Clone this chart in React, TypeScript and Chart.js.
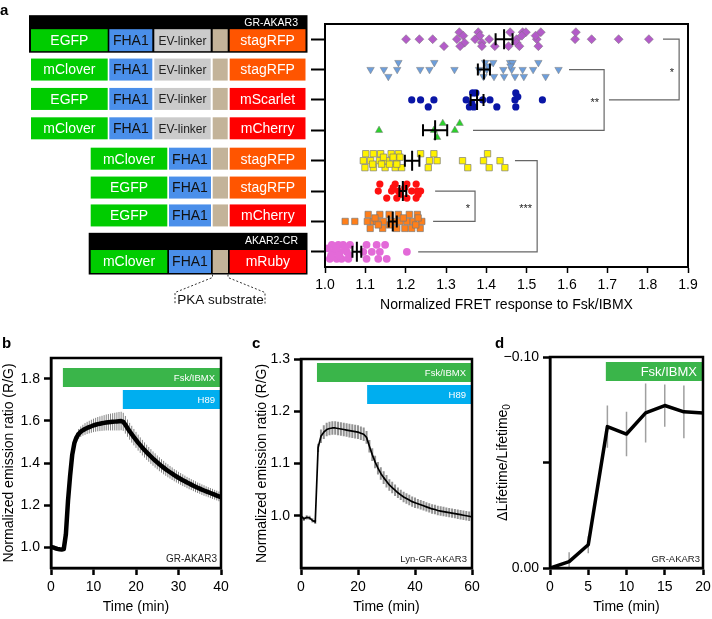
import React, { useEffect, useRef } from 'react';
import { Chart, registerables } from 'chart.js';

Chart.register(...registerables);

const FONT = '"Liberation Sans", Arial, Helvetica, sans-serif';
Chart.defaults.font.family = FONT;
Chart.defaults.font.size = 14;
Chart.defaults.color = '#000';

// ================= Panel a data =================
const constructDonors = ['EGFP', 'mClover', 'EGFP', 'mClover', 'mClover', 'EGFP', 'EGFP', 'mClover'];
const constructAcceptors = ['stagRFP', 'stagRFP', 'mScarlet', 'mCherry', 'stagRFP', 'stagRFP', 'mCherry', 'mRuby'];
const constructHasLinker = [true, true, true, true, false, false, false, false];
const constructHeaders = ['GR-AKAR3', '', '', '', '', '', '', 'AKAR2-CR'];
const rowIndex = [0, 1, 2, 3, 4, 5, 6, 7];
const aTicks = [1.0, 1.1, 1.2, 1.3, 1.4, 1.5, 1.6, 1.7, 1.8, 1.9];

const purpleX = [1.201, 1.234, 1.267, 1.327, 1.372, 1.407, 1.475, 1.525, 1.620, 1.661, 1.728, 1.803,
  1.333, 1.380, 1.459, 1.490, 1.498, 1.535, 1.622,
  1.343, 1.384, 1.488, 1.522,
  1.346, 1.389, 1.475,
  1.295, 1.335, 1.389, 1.421, 1.455, 1.482, 1.529];
const purpleJ = [0, 0, 0, 0, 0, 0, 0, 0, 0, 0, 0, 0,
  -1, -1, -1, -1, -1, -1, -1,
  -0.5, -0.5, -0.5, -0.5,
  0.5, 0.5, 0.5,
  1, 1, 1, 1, 1, 1, 1];

const blueX = [1.113, 1.146, 1.179, 1.236, 1.259, 1.321, 1.382, 1.401, 1.442, 1.463, 1.490, 1.516, 1.579,
  1.182, 1.271, 1.397, 1.417, 1.459, 1.465, 1.529,
  1.157, 1.393, 1.419, 1.444, 1.471, 1.493, 1.547,
  1.405, 1.460];
const blueJ = [0, 0, 0, 0, 0, 0, 0, 0, 0, 0, 0, 0, 0,
  -1, -1, -1, -1, -1, -1, -1,
  1, 1, 1, 1, 1, 1, 1,
  -0.5, -0.5];

const navyX = [1.215, 1.237, 1.270, 1.350, 1.391, 1.409, 1.471, 1.539,
  1.366, 1.374, 1.473,
  1.256, 1.358, 1.369, 1.426, 1.473,
  1.478, 1.364];
const navyJ = [0, 0, 0, 0, 0, 0, 0, 0,
  -1, -1, -1,
  1, 1, 1, 1, 1,
  -0.45, 0.5];

const greenX = [1.134, 1.270, 1.322, 1.292, 1.334, 1.278];
const greenJ = [0, 0, 0, -1, -1, 1];

const yellowX = [1.101, 1.120, 1.138, 1.164, 1.182, 1.237, 1.270, 1.403,
  1.095, 1.113, 1.135, 1.153, 1.178, 1.259, 1.278, 1.341, 1.393, 1.434,
  1.099, 1.120, 1.149, 1.174, 1.190, 1.256, 1.354, 1.407, 1.446,
  1.145, 1.169, 1.186,
  1.118, 1.140, 1.160, 1.178];
const yellowJ = [-1, -1, -1, -1, -1, -1, -1, -1,
  0, 0, 0, 0, 0, 0, 0, 0, 0, 0,
  1, 1, 1, 1, 1, 1, 1, 1, 1,
  -0.5, -0.5, -0.5,
  0.5, 0.5, 0.5, 0.5];

const redX = [1.136, 1.174, 1.203, 1.226,
  1.132, 1.165, 1.182, 1.215, 1.229, 1.237,
  1.153, 1.178, 1.203, 1.226,
  1.169, 1.198,
  1.186, 1.231];
const redJ = [-1, -1, -1, -1,
  0, 0, 0, 0, 0, 0,
  1, 1, 1, 1,
  -0.5, -0.5,
  0.5, 0.5];

const orangeX = [1.050, 1.074, 1.105, 1.120, 1.128, 1.145, 1.168, 1.186, 1.203, 1.219, 1.240,
  1.107, 1.136, 1.159, 1.182, 1.209, 1.229,
  1.112, 1.143, 1.178, 1.198, 1.215, 1.236,
  1.124, 1.194, 1.231,
  1.132, 1.160, 1.225];
const orangeJ = [0, 0, 0, 0, 0, 0, 0, 0, 0, 0, 0,
  -1, -1, -1, -1, -1, -1,
  1, 1, 1, 1, 1, 1,
  -0.5, -0.5, -0.5,
  0.5, 0.5, 0.5];

const pinkX = [1.017, 1.033, 1.045, 1.062, 1.103, 1.128, 1.149,
  1.021, 1.037, 1.054, 1.095, 1.116, 1.136, 1.203,
  1.012, 1.029, 1.041, 1.058, 1.103, 1.132, 1.153,
  1.007, 1.027, 1.050,
  1.015, 1.035, 1.060];
const pinkJ = [-1, -1, -1, -1, -1, -1, -1,
  0, 0, 0, 0, 0, 0, 0,
  1, 1, 1, 1, 1, 1, 1,
  -0.5, -0.5, -0.5,
  0.5, 0.5, 0.5];

const aMeans = [1.444, 1.394, 1.377, 1.273, 1.216, 1.193, 1.168, 1.079];
const aSems = [0.021, 0.015, 0.016, 0.030, 0.018, 0.0085, 0.010, 0.011];

const bracketFrom = [0, 1, 4, 5];
const bracketTo = [2, 3, 7, 6];
const bracketStartX = [1.838, 1.605, 1.471, 1.273];
const bracketSideX = [1.878, 1.692, 1.526, 1.372];
const bracketEndX = [1.704, 1.367, 1.231, 1.268];
const bracketStars = ['*', '**', '***', '*'];

// ================= Panel b data =================
const bTime = [0, 0.5, 1, 1.5, 2, 2.5, 3, 3.5, 4, 4.5, 5, 5.5, 6, 6.5, 7, 7.5, 8, 8.5, 9, 9.5, 10, 10.5, 11, 11.5, 12, 12.5, 13, 13.5, 14, 14.5, 15, 15.5, 16, 16.5, 17, 17.5, 18, 18.5, 19, 19.5, 20, 20.5, 21, 21.5, 22, 22.5, 23, 23.5, 24, 24.5, 25, 25.5, 26, 26.5, 27, 27.5, 28, 28.5, 29, 29.5, 30, 30.5, 31, 31.5, 32, 32.5, 33, 33.5, 34, 34.5, 35, 35.5, 36, 36.5, 37, 37.5, 38, 38.5, 39, 39.5, 40];
const bMean = [1.000, 0.998, 0.994, 0.991, 0.989, 0.988, 0.990,
  1.060, 1.220, 1.340, 1.440, 1.495, 1.522, 1.538, 1.549, 1.556, 1.562, 1.567, 1.571, 1.575, 1.579, 1.582, 1.585, 1.587, 1.589, 1.591, 1.593, 1.594, 1.595, 1.596, 1.597, 1.598, 1.599, 1.600,
  1.596, 1.582, 1.566, 1.551, 1.537, 1.523, 1.510,
  1.497, 1.485, 1.473, 1.462, 1.451, 1.441, 1.431, 1.421, 1.412, 1.403,
  1.394, 1.386, 1.378, 1.370, 1.363, 1.356, 1.349, 1.342, 1.336, 1.330,
  1.324, 1.318, 1.313, 1.307, 1.302, 1.297, 1.292, 1.287, 1.282, 1.278,
  1.273, 1.269, 1.265, 1.261, 1.257, 1.253, 1.249, 1.245, 1.241, 1.237];
const bSem = [0.004, 0.004, 0.004, 0.004, 0.004, 0.004, 0.004,
  0.008, 0.012, 0.015, 0.018, 0.020, 0.022, 0.024, 0.025, 0.026, 0.028, 0.029, 0.030, 0.031, 0.032, 0.033, 0.034, 0.035, 0.036, 0.037, 0.038, 0.039, 0.040, 0.041, 0.042, 0.043, 0.044, 0.044,
  0.043, 0.042, 0.041, 0.040, 0.040, 0.039, 0.038,
  0.038, 0.037, 0.037, 0.036, 0.036, 0.035, 0.035, 0.034, 0.034, 0.033,
  0.033, 0.032, 0.032, 0.031, 0.031, 0.030, 0.030, 0.029, 0.029, 0.028,
  0.028, 0.028, 0.027, 0.027, 0.027, 0.026, 0.026, 0.026, 0.025, 0.025,
  0.025, 0.025, 0.024, 0.024, 0.024, 0.024, 0.023, 0.023, 0.023, 0.023];
const bXTicks = [0, 10, 20, 30, 40];
const bYTicks = [1.0, 1.2, 1.4, 1.6, 1.8];
const bTreatLabels = ['Fsk/IBMX', 'H89'];
const bTreatStart = [2.8, 16.9];

// ================= Panel c data =================
const cTime = [0, 1, 2, 3, 4, 5, 6, 7, 8, 9, 10, 11, 12, 13, 14, 15, 16, 17, 18, 19, 20, 21, 22, 23, 24, 25, 26, 27, 28, 29, 30, 31, 32, 33, 34, 35, 36, 37, 38, 39, 40, 41, 42, 43, 44, 45, 46, 47, 48, 49, 50, 51, 52, 53, 54, 55, 56, 57, 58, 59, 60];
const cMean = [1.000, 0.994, 0.997, 0.996, 0.991, 0.988, 1.130, 1.152, 1.160, 1.165,
  1.167, 1.168, 1.168, 1.167, 1.166, 1.165, 1.164, 1.163, 1.162, 1.161,
  1.160, 1.158, 1.156, 1.150, 1.133, 1.117, 1.103, 1.091, 1.081, 1.073,
  1.066, 1.059, 1.054, 1.049, 1.044, 1.040, 1.036, 1.033, 1.030, 1.027,
  1.025, 1.023, 1.021, 1.019, 1.017, 1.015, 1.013, 1.012, 1.010, 1.009,
  1.008, 1.007, 1.006, 1.005, 1.004, 1.003, 1.002, 1.001, 1.000, 0.999, 0.998];
const cSem = [0.004, 0.004, 0.004, 0.004, 0.004, 0.004, 0.008,
  0.013, 0.013, 0.013, 0.013, 0.013, 0.013, 0.013, 0.013, 0.013, 0.013, 0.013, 0.013, 0.013, 0.013, 0.013, 0.013,
  0.012, 0.012, 0.012, 0.012, 0.012, 0.012, 0.012, 0.012,
  0.011, 0.011, 0.011, 0.010, 0.010, 0.010, 0.010, 0.010, 0.010, 0.010, 0.009, 0.009, 0.009, 0.009, 0.009,
  0.009, 0.009, 0.009, 0.009, 0.009, 0.009, 0.009, 0.009, 0.009, 0.009, 0.009, 0.009, 0.009, 0.009, 0.009];
const cXTicks = [0, 20, 40, 60];
const cYTicks = [1.0, 1.1, 1.2, 1.3];
const cTreatLabels = ['Fsk/IBMX', 'H89'];
const cTreatStart = [5.6, 23.2];

// ================= Panel d data =================
const dTime = [0, 2.5, 5, 7.5, 10, 12.5, 15, 17.5, 20];
const dMean = [0, -0.003, -0.011, -0.067, -0.0635, -0.0735, -0.077, -0.074, -0.0735];
const dSem = [0, 0.0045, 0.004, 0.010, 0.0105, 0.014, 0.010, 0.0125, 0.013];
const dXTicks = [0, 5, 10, 15, 20];
const dYTicks = [-0.10, -0.05, 0.00];
const dYTickLabels = ['\u22120.10', '', '0.00'];
const dTreatLabels = ['Fsk/IBMX'];
const dTreatStart = [7.3];

// ================= styles =================
const C_GREEN = '#00CC00';
const C_BLUE = '#4A8FEA';
const C_GRAY = '#CBCBCB';
const C_TAN = '#C3B399';
const C_ORANGE = '#FF5500';
const C_RED = '#FF0000';
const T_GREEN = '#3AB54A';
const T_BLUE = '#00AEEF';

const aSeries = [
  { x: purpleX, j: purpleJ, color: '#B35CC8', style: 'rectRot', r: 4.5, rot: 0, bw: 0.6 },
  { x: blueX, j: blueJ, color: '#6D9EDB', style: 'triangle', r: 4.3, rot: 180, bw: 0.6 },
  { x: navyX, j: navyJ, color: '#0A16A6', style: 'circle', r: 3.6, rot: 0, bw: 0 },
  { x: greenX, j: greenJ, color: '#2BD12B', style: 'triangle', r: 4.2, rot: 0, bw: 0.6 },
  { x: yellowX, j: yellowJ, color: '#FFF200', style: 'rect', r: 4.5, rot: 0, bw: 0.8 },
  { x: redX, j: redJ, color: '#FF1010', style: 'circle', r: 3.6, rot: 0, bw: 0 },
  { x: orangeX, j: orangeJ, color: '#FF7F1A', style: 'rect', r: 4.5, rot: 0, bw: 0.8 },
  { x: pinkX, j: pinkJ, color: '#E36AD8', style: 'circle', r: 3.9, rot: 0, bw: 0 },
];

function drawConstructs(ctx: CanvasRenderingContext2D, ys: any) {
  const shifts = [1, 0, -1, -2, -2, -3.5, -6, 9.7];
  let lastBottom = 0;
  rowIndex.forEach((i) => {
    const ry = ys.getPixelForValue(i);
    const cy = ry + shifts[i];
    const h = i === 7 ? 23 : 22;
    const top = cy - h / 2;
    const long = constructHasLinker[i];
    const acc = constructAcceptors[i] === 'stagRFP' ? C_ORANGE : C_RED;
    const segs: any[] = long
      ? [
          [31, 107.7, C_GREEN, constructDonors[i], '#fff', 14],
          [109.3, 152.3, C_BLUE, 'FHA1', '#111', 14],
          [154.3, 210.7, C_GRAY, 'EV-linker', '#222', 12],
          [212.7, 227.7, C_TAN, '', '#000', 12],
          [229.7, 305.5, acc, constructAcceptors[i], '#fff', 14],
        ]
      : [
          [90.7, 167.3, C_GREEN, constructDonors[i], '#fff', 14],
          [169, 211, C_BLUE, 'FHA1', '#111', 14],
          [212.7, 228, C_TAN, '', '#000', 12],
          [229.7, 306, acc, constructAcceptors[i], '#fff', 14],
        ];
    if (constructHeaders[i]) {
      const bx0 = long ? 29 : 88.7;
      const by0 = i === 0 ? ry - 24 : ry - 19;
      const by1 = top + h + 1.5;
      ctx.fillStyle = '#000';
      ctx.fillRect(bx0, by0, 307.5 - bx0, by1 - by0);
      ctx.fillStyle = '#fff';
      ctx.font = `10.5px ${FONT}`;
      ctx.textAlign = 'right';
      ctx.textBaseline = 'middle';
      ctx.fillText(constructHeaders[i], 298, i === 0 ? ry - 16 : ry - 10.5);
      lastBottom = by1;
    }
    segs.forEach((s) => {
      ctx.fillStyle = s[2];
      ctx.fillRect(s[0], top, s[1] - s[0], h);
      if (s[3]) {
        ctx.fillStyle = s[4];
        ctx.font = `${s[5]}px ${FONT}`;
        ctx.textAlign = 'center';
        ctx.textBaseline = 'middle';
        ctx.fillText(s[3], (s[0] + s[1]) / 2, cy + 1);
      }
    });
  });
  // PKA substrate callout
  const yb = lastBottom;
  ctx.strokeStyle = '#333';
  ctx.lineWidth = 1;
  ctx.setLineDash([2, 2]);
  ctx.beginPath();
  ctx.moveTo(212.5, yb); ctx.lineTo(212.5, yb + 3); ctx.lineTo(175, yb + 18); ctx.lineTo(175, yb + 30);
  ctx.moveTo(228, yb); ctx.lineTo(228, yb + 3); ctx.lineTo(265, yb + 18); ctx.lineTo(265, yb + 30);
  ctx.stroke();
  ctx.setLineDash([]);
  ctx.fillStyle = '#111';
  ctx.font = `13.5px ${FONT}`;
  ctx.textAlign = 'center';
  ctx.textBaseline = 'middle';
  ctx.fillText('PKA substrate', 220.5, yb + 25.5);
}

const aPlugin = {
  id: 'panelA',
  afterDatasetsDraw(chart: any) {
    const { ctx, scales } = chart;
    const xs = scales.x;
    const ys = scales.y;
    ctx.save();
    ctx.strokeStyle = '#000';
    ctx.lineWidth = 2;
    ctx.beginPath();
    aMeans.forEach((m, i) => {
      const py = ys.getPixelForValue(i);
      const px = xs.getPixelForValue(m);
      const lo = xs.getPixelForValue(m - aSems[i]);
      const hi = xs.getPixelForValue(m + aSems[i]);
      ctx.moveTo(lo, py); ctx.lineTo(hi, py);
      ctx.moveTo(px, py - 10); ctx.lineTo(px, py + 10);
      ctx.moveTo(lo, py - 6); ctx.lineTo(lo, py + 6);
      ctx.moveTo(hi, py - 6); ctx.lineTo(hi, py + 6);
    });
    ctx.stroke();
    ctx.strokeStyle = '#666';
    ctx.lineWidth = 1.2;
    ctx.beginPath();
    bracketFrom.forEach((r0, i) => {
      const y0 = ys.getPixelForValue(r0);
      const y1 = ys.getPixelForValue(bracketTo[i]);
      const xv = xs.getPixelForValue(bracketSideX[i]);
      ctx.moveTo(xs.getPixelForValue(bracketStartX[i]), y0);
      ctx.lineTo(xv, y0);
      ctx.lineTo(xv, y1);
      ctx.lineTo(xs.getPixelForValue(bracketEndX[i]), y1);
    });
    ctx.stroke();
    ctx.fillStyle = '#222';
    ctx.font = `11px ${FONT}`;
    ctx.textAlign = 'right';
    ctx.textBaseline = 'alphabetic';
    bracketFrom.forEach((r0, i) => {
      const y0 = ys.getPixelForValue(r0);
      const y1 = ys.getPixelForValue(bracketTo[i]);
      const xv = xs.getPixelForValue(bracketSideX[i]);
      ctx.fillText(bracketStars[i], xv - 5, (y0 + y1) / 2 + 6);
    });
    ctx.restore();
  },
  afterDraw(chart: any) {
    const { ctx, chartArea: ca } = chart;
    ctx.save();
    ctx.strokeStyle = '#000';
    ctx.lineWidth = 2;
    ctx.strokeRect(ca.left, ca.top, ca.right - ca.left, ca.bottom - ca.top);
    drawConstructs(ctx, chart.scales.y);
    ctx.fillStyle = '#000';
    ctx.font = `bold 15px ${FONT}`;
    ctx.textAlign = 'left';
    ctx.textBaseline = 'alphabetic';
    ctx.fillText('a', 0, 15);
    ctx.restore();
  },
};

function aConfig(): any {
  return {
    type: 'scatter',
    data: {
      datasets: aSeries.map((s, row) => ({
        data: s.x.map((v, k) => ({ x: v, y: row + s.j[k] * 0.23 })),
        pointStyle: s.style,
        pointRadius: s.r,
        pointRotation: s.rot,
        backgroundColor: s.color,
        borderColor: 'rgba(120,120,120,0.85)',
        borderWidth: s.bw,
        clip: false,
      })),
    },
    options: {
      animation: false,
      responsive: false,
      devicePixelRatio: 1,
      events: [],
      layout: { padding: { left: 310, top: 24, right: 24, bottom: 6.6 } },
      plugins: { legend: { display: false }, tooltip: { enabled: false } },
      scales: {
        x: {
          type: 'linear',
          min: 1.0,
          max: 1.9,
          afterBuildTicks: (s: any) => { s.ticks = aTicks.map((v) => ({ value: v })); },
          afterFit: (s: any) => { s.height = 46.4; },
          ticks: { autoSkip: false, maxRotation: 0, padding: 4, font: { size: 14 }, color: '#000', callback: (v: any) => Number(v).toFixed(1) },
          grid: { drawOnChartArea: false, tickLength: 6, tickWidth: 1.5, tickColor: '#000' },
          border: { display: true, color: '#000', width: 2 },
          title: { display: true, text: 'Normalized FRET response to Fsk/IBMX', font: { size: 14 }, color: '#000', padding: 0 },
        },
        y: {
          type: 'linear',
          reverse: true,
          min: -0.5,
          max: 7.5,
          afterBuildTicks: (s: any) => { s.ticks = rowIndex.map((v) => ({ value: v })); },
          afterFit: (s: any) => { s.width = 15; },
          ticks: { padding: 0, callback: () => '' },
          grid: { drawOnChartArea: false, tickLength: 14, tickWidth: 2, tickColor: '#000' },
          border: { display: true, color: '#000', width: 2 },
        },
      },
    },
    plugins: [aPlugin],
  };
}

type LineSpec = {
  pad: { left: number; top: number; right: number; bottom: number };
  yAxisWidth: number;
  xAxisHeight: number;
  xMin: number; xMax: number; xTicks: number[];
  yMin: number; yMax: number; yTicks: number[];
  yFmt: (v: number, i: number) => string;
  reverse: boolean;
  yTitle: string;
  customYTitleX: number;
  time: number[]; mean: number[]; sem: number[];
  lineWidth: number; errColor: string; errWidth: number;
  treatLabels: string[]; treatStart: number[]; treatColors: string[];
  treatOffsets: number[]; treatHeight: number; treatFont: number;
  sample: string; sampleInset: number; sampleFont: number;
  letter: string; letterX: number; letterY: number;
};

function linePlugin(spec: LineSpec) {
  return {
    id: 'linePanel',
    beforeDatasetsDraw(chart: any) {
      const { ctx, chartArea: ca, scales } = chart;
      const x = scales.x;
      const y = scales.y;
      ctx.save();
      ctx.beginPath();
      ctx.rect(ca.left, ca.top, ca.right - ca.left, ca.bottom - ca.top);
      ctx.clip();
      spec.treatLabels.forEach((lab, i) => {
        const x0 = x.getPixelForValue(spec.treatStart[i]);
        const top = ca.top + spec.treatOffsets[i];
        ctx.fillStyle = spec.treatColors[i];
        ctx.fillRect(x0, top, ca.right - x0, spec.treatHeight);
        ctx.fillStyle = '#fff';
        ctx.font = `${spec.treatFont}px ${FONT}`;
        ctx.textAlign = 'right';
        ctx.textBaseline = 'middle';
        ctx.fillText(lab, ca.right - 6, top + spec.treatHeight / 2 + 0.5);
      });
      ctx.strokeStyle = spec.errColor;
      ctx.lineWidth = spec.errWidth;
      ctx.beginPath();
      spec.time.forEach((t, i) => {
        const px = x.getPixelForValue(t);
        ctx.moveTo(px, y.getPixelForValue(spec.mean[i] - spec.sem[i]));
        ctx.lineTo(px, y.getPixelForValue(spec.mean[i] + spec.sem[i]));
      });
      ctx.stroke();
      ctx.restore();
    },
    afterDraw(chart: any) {
      const { ctx, chartArea: ca } = chart;
      ctx.save();
      ctx.strokeStyle = '#000';
      ctx.lineWidth = 2.5;
      ctx.strokeRect(ca.left, ca.top, ca.right - ca.left, ca.bottom - ca.top);
      ctx.fillStyle = '#222';
      ctx.font = `${spec.sampleFont}px ${FONT}`;
      ctx.textAlign = 'right';
      ctx.textBaseline = 'middle';
      ctx.fillText(spec.sample, ca.right - spec.sampleInset, ca.bottom - 9);
      ctx.fillStyle = '#000';
      ctx.font = `bold 15px ${FONT}`;
      ctx.textAlign = 'left';
      ctx.textBaseline = 'alphabetic';
      ctx.fillText(spec.letter, spec.letterX, spec.letterY);
      if (spec.customYTitleX > 0) {
        const main = '\u0394Lifetime/Lifetime';
        ctx.font = `14px ${FONT}`;
        const wm = ctx.measureText(main).width;
        ctx.font = `10px ${FONT}`;
        const ws = ctx.measureText('0').width;
        const total = wm + ws;
        ctx.translate(spec.customYTitleX, (ca.top + ca.bottom) / 2);
        ctx.rotate(-Math.PI / 2);
        ctx.textBaseline = 'middle';
        ctx.font = `14px ${FONT}`;
        ctx.fillText(main, -total / 2, 0);
        ctx.font = `10px ${FONT}`;
        ctx.fillText('0', -total / 2 + wm, 4);
      }
      ctx.restore();
    },
  };
}

function lineConfig(spec: LineSpec): any {
  return {
    type: 'line',
    data: {
      datasets: [
        {
          data: spec.time.map((t, i) => ({ x: t, y: spec.mean[i] })),
          borderColor: '#000',
          borderWidth: spec.lineWidth,
          pointRadius: 0,
          tension: 0,
          fill: false,
          borderJoinStyle: 'round',
          borderCapStyle: 'round',
        },
      ],
    },
    options: {
      animation: false,
      responsive: false,
      devicePixelRatio: 1,
      events: [],
      layout: { padding: spec.pad },
      plugins: { legend: { display: false }, tooltip: { enabled: false } },
      scales: {
        x: {
          type: 'linear',
          min: spec.xMin,
          max: spec.xMax,
          afterBuildTicks: (s: any) => { s.ticks = spec.xTicks.map((v) => ({ value: v })); },
          afterFit: (s: any) => { s.height = spec.xAxisHeight; },
          ticks: { autoSkip: false, maxRotation: 0, padding: 4, font: { size: 14 }, color: '#000', callback: (v: any) => String(v) },
          grid: { drawOnChartArea: false, tickLength: 7, tickWidth: 2.5, tickColor: '#000' },
          border: { display: true, color: '#000', width: 2.5 },
          title: { display: true, text: 'Time (min)', font: { size: 14 }, color: '#000', padding: 0 },
        },
        y: {
          type: 'linear',
          reverse: spec.reverse,
          min: spec.yMin,
          max: spec.yMax,
          afterBuildTicks: (s: any) => { s.ticks = spec.yTicks.map((v) => ({ value: v })); },
          afterFit: (s: any) => { s.width = spec.yAxisWidth; },
          ticks: { autoSkip: false, padding: 4, font: { size: 14 }, color: '#000', callback: (v: any, i: number) => spec.yFmt(Number(v), i) },
          grid: { drawOnChartArea: false, tickLength: 7, tickWidth: 2.5, tickColor: '#000' },
          border: { display: true, color: '#000', width: 2.5 },
          title: { display: spec.yTitle !== '', text: spec.yTitle, font: { size: 14 }, color: '#000', padding: 0 },
        },
      },
    },
    plugins: [linePlugin(spec)],
  };
}

const bSpec: LineSpec = {
  pad: { left: 0.6, top: 38, right: 16, bottom: 3.6 },
  yAxisWidth: 50.4, xAxisHeight: 47.4,
  xMin: 0, xMax: 40, xTicks: bXTicks,
  yMin: 0.9, yMax: 1.9, yTicks: bYTicks, yFmt: (v) => v.toFixed(1), reverse: false,
  yTitle: 'Normalized emission ratio (R/G)', customYTitleX: 0,
  time: bTime, mean: bMean, sem: bSem,
  lineWidth: 4.5, errColor: 'rgba(30,30,30,0.55)', errWidth: 1,
  treatLabels: bTreatLabels, treatStart: bTreatStart, treatColors: [T_GREEN, T_BLUE],
  treatOffsets: [10, 32], treatHeight: 19, treatFont: 9.5,
  sample: 'GR-AKAR3', sampleInset: 4, sampleFont: 10,
  letter: 'b', letterX: 2, letterY: 28,
};

const cSpec: LineSpec = {
  pad: { left: 16.6, top: 39, right: 15, bottom: 3.6 },
  yAxisWidth: 47.4, xAxisHeight: 47.4,
  xMin: 0, xMax: 60, xTicks: cXTicks,
  yMin: 0.9, yMax: 1.3, yTicks: cYTicks, yFmt: (v) => v.toFixed(1), reverse: false,
  yTitle: 'Normalized emission ratio (R/G)', customYTitleX: 0,
  time: cTime, mean: cMean, sem: cSem,
  lineWidth: 1.7, errColor: 'rgba(40,40,40,0.5)', errWidth: 2,
  treatLabels: cTreatLabels, treatStart: cTreatStart, treatColors: [T_GREEN, T_BLUE],
  treatOffsets: [4, 26], treatHeight: 19, treatFont: 9.5,
  sample: 'Lyn-GR-AKAR3', sampleInset: 5, sampleFont: 9.5,
  letter: 'c', letterX: 15, letterY: 28,
};

const dSpec: LineSpec = {
  pad: { left: 0, top: 37, right: 13, bottom: 3.6 },
  yAxisWidth: 76, xAxisHeight: 47.4,
  xMin: 0, xMax: 20, xTicks: dXTicks,
  yMin: -0.1, yMax: 0, yTicks: dYTicks, yFmt: (_v, i) => dYTickLabels[i], reverse: true,
  yTitle: '', customYTitleX: 29.5,
  time: dTime, mean: dMean, sem: dSem,
  lineWidth: 3.5, errColor: '#A0A0A0', errWidth: 1.5,
  treatLabels: dTreatLabels, treatStart: dTreatStart, treatColors: [T_GREEN],
  treatOffsets: [5], treatHeight: 19, treatFont: 13,
  sample: 'GR-AKAR3', sampleInset: 3, sampleFont: 9.5,
  letter: 'd', letterX: 21, letterY: 28,
};

export default function App() {
  const aRef = useRef<HTMLCanvasElement>(null);
  const bRef = useRef<HTMLCanvasElement>(null);
  const cRef = useRef<HTMLCanvasElement>(null);
  const dRef = useRef<HTMLCanvasElement>(null);

  useEffect(() => {
    const charts = [
      new Chart(aRef.current as HTMLCanvasElement, aConfig()),
      new Chart(bRef.current as HTMLCanvasElement, lineConfig(bSpec)),
      new Chart(cRef.current as HTMLCanvasElement, lineConfig(cSpec)),
      new Chart(dRef.current as HTMLCanvasElement, lineConfig(dSpec)),
    ];
    return () => charts.forEach((c) => c.destroy());
  }, []);

  const abs = (left: number, top: number, width: number, height: number): React.CSSProperties => ({
    position: 'absolute', left, top, width, height,
  });

  return (
    <div style={{ position: 'fixed', left: 0, top: 0, width: 712, height: 619, background: '#fff', overflow: 'hidden' }}>
      <canvas ref={aRef} width={712} height={320} style={abs(0, 0, 712, 320)} />
      <canvas ref={bRef} width={237} height={299} style={abs(0, 320, 237, 299)} />
      <canvas ref={cRef} width={250} height={299} style={abs(237, 320, 250, 299)} />
      <canvas ref={dRef} width={242} height={299} style={abs(474, 320, 242, 299)} />
    </div>
  );
}
